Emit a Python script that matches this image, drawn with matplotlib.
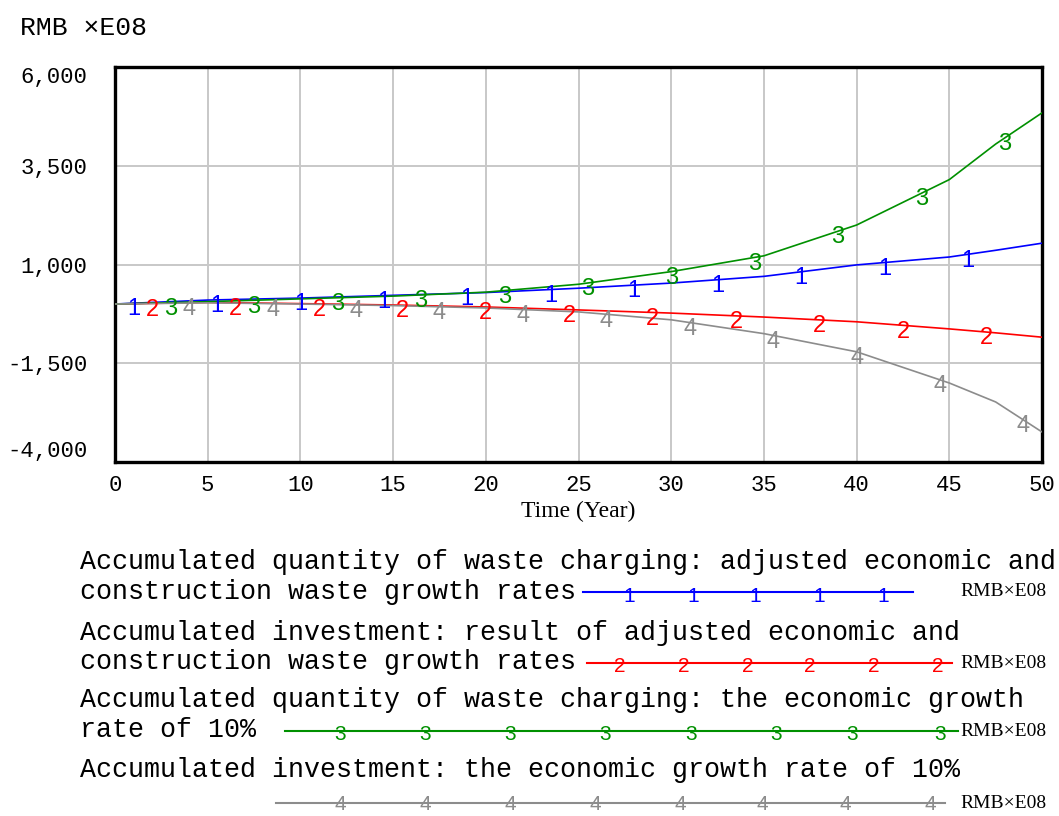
import numpy as np
import matplotlib.pyplot as plt
from matplotlib.lines import Line2D

# data (RMB x E08)
years = [0, 5, 10, 15, 20, 25, 30, 35, 40, 45, 47.5, 50]
waste_adj = [0, 100, 150, 220, 290, 400, 530, 700, 990, 1190, 1360, 1540]
invest_adj = [0, 40, 10, -25, -75, -150, -230, -330, -450, -630, -730, -840]
waste_10 = [0, 60, 130, 200, 300, 500, 820, 1220, 2000, 3150, 4050, 4840]
invest_10 = [0, 30, 0, -40, -100, -200, -400, -750, -1210, -2000, -2480, -3240]

series = [waste_adj, invest_adj, waste_10, invest_10]
colors = ['#0000ff', '#ff0000', '#009000', '#8c8c8c']
digits = ['1', '2', '3', '4']
legend_text = [
    ['Accumulated quantity of waste charging: adjusted economic and',
     'construction waste growth rates'],
    ['Accumulated investment: result of adjusted economic and',
     'construction waste growth rates'],
    ['Accumulated quantity of waste charging: the economic growth',
     'rate of 10%'],
    ['Accumulated investment: the economic growth rate of 10%'],
]
yticks = [6000, 3500, 1000, -1500, -4000]
xticks = list(range(0, 51, 5))

mono = 'Liberation Mono'
W, H = 1059.0, 816.0

fig = plt.figure(figsize=(10.59, 8.16), dpi=100)
ax = fig.add_axes([0.1086, 0.4338, 0.8754, 0.4841])

for i, s in enumerate(series):
    ax.plot(years, s, color=colors[i], lw=1.2, zorder=3)
    # numbered markers along each curve
    for t in np.arange(i + 1, 50.1, 4.5):
        yv = np.interp(t, years, s)
        ax.annotate(digits[i], (t, yv), xytext=(0, -4.5), textcoords='offset points',
                    ha='center', va='center', color=colors[i], fontsize=17,
                    family='Liberation Sans', zorder=4)

ax.set_xlim(0, 50)
ax.set_ylim(-4000, 6000)
ax.set_xticks(xticks)
ax.set_yticks(yticks)
ax.set_xticklabels([str(x) for x in xticks], family=mono, fontsize=16)
ax.set_yticklabels(['{:,}'.format(v) for v in yticks], family=mono, fontsize=16)
ylabs = ax.get_yticklabels()
ylabs[0].set_va('top')
ylabs[-1].set_va('bottom')
ax.tick_params(axis='y', length=0, pad=20)
ax.tick_params(axis='x', length=0, pad=9)
ax.grid(True, color='#c8c8c8', lw=1.4)
ax.set_axisbelow(True)
for sp in ax.spines.values():
    sp.set_linewidth(2.4)
    sp.set_color('black')
ax.set_xlabel('Time (Year)', family='Liberation Serif', fontsize=17, labelpad=4)

fig.text(20 / W, 1 - 28 / H, 'RMB \u00d7E08', family=mono, fontsize=19, va='center')

# legend block under the chart
line_y = [[562, 592], [633, 662], [700, 730], [770]]
for i, rows in enumerate(legend_text):
    for row, yy in zip(rows, line_y[i]):
        fig.text(80 / W, 1 - yy / H, row, family=mono, fontsize=19.2, va='center')

leg_lines = [(583, 913, 592), (587, 952, 663), (285, 958, 731), (276, 945, 803)]
leg_marks = [
    [629, 693, 755, 819, 883],
    [620, 684, 748, 810, 874, 938],
    [340, 425, 510, 605, 691, 776, 852, 940],
    [340, 425, 510, 595, 680, 762, 845, 930],
]
mark_off = [4, 4, 4, 2]
for i, (x0, x1, yy) in enumerate(leg_lines):
    fig.add_artist(Line2D([x0 / W, x1 / W], [1 - yy / H, 1 - yy / H],
                          color=colors[i], lw=1.5, transform=fig.transFigure))
    for xm in leg_marks[i]:
        fig.text(xm / W, 1 - (yy + mark_off[i]) / H, digits[i], color=colors[i],
                 fontsize=15, family='Liberation Sans', ha='center', va='center')
    fig.text(1003 / W, 1 - yy / H, 'RMB\u00d7E08', family='Liberation Serif',
             fontsize=14, ha='center', va='center')

fig.savefig('out.png', dpi=100)
